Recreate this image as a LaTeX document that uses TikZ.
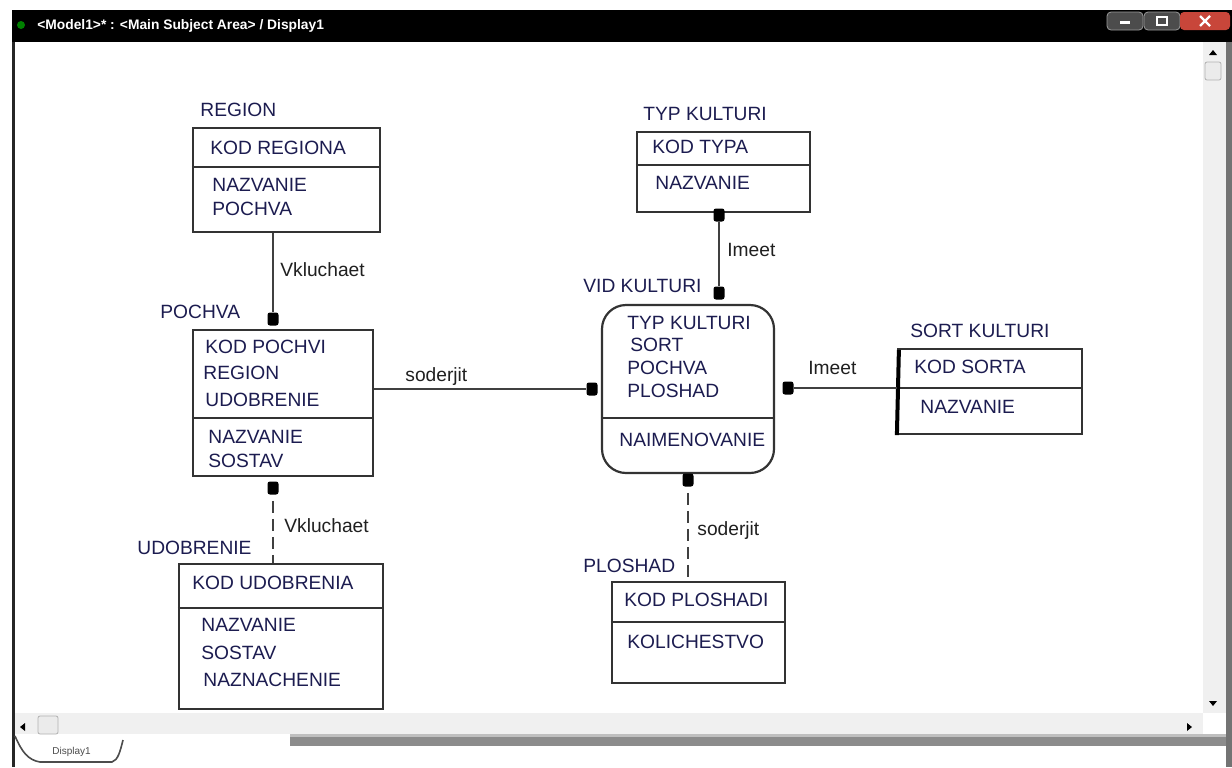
\documentclass[tikz,border=0pt]{standalone}
\usepackage{fontspec}
\setmainfont{Liberation Sans}
\usetikzlibrary{fit}
\definecolor{attrblue}{HTML}{1C1C50}
\definecolor{relgray}{HTML}{202020}
\definecolor{barfill}{HTML}{F0F0F0}
\definecolor{closered}{HTML}{C8463A}
\tikzset{ent/.style={draw=black!80, line width=1.1pt, inner sep=0pt},
 vident/.style={ent, rounded corners=12pt},
 attr/.style={anchor=west, inner sep=0pt, text=attrblue, font=\fontsize{9.6}{11}\selectfont},
 rel/.style={anchor=west, inner sep=0pt, text=relgray, font=\fontsize{9.6}{11}\selectfont},
 dot/.style={fill=black, rounded corners=1.2pt, minimum width=5.5pt, minimum height=6.5pt, inner sep=0pt},
 link/.style={draw=black!75, line width=1.1pt},
 dashlink/.style={link, dash pattern=on 6pt off 3pt},
 sep/.style={draw=black!80, line width=1.1pt},
 }

\begin{document}
\begin{tikzpicture}[x=0.5pt,y=-0.5pt]
    \useasboundingbox (0,0) rectangle (1232,767);
    % window frame
    \fill[white] (0,0) rectangle (1232,767);
    \fill[black] (12,10) rectangle (1232,42);
    \fill[black!85] (12,42) rectangle (15,767);
    \fill[black!55] (1226,42) rectangle (1232,767);
    \fill[green!50!black] (21,25) circle (4);
    \node[anchor=west, inner sep=0pt, text=white, font=\fontsize{6.9}{8}\selectfont\bfseries] (title) at (37,26) {<Model1>* : <Main Subject Area> / Display1};
    \node[draw=black!40, fill=black!70, rounded corners=2pt, minimum width=18pt, minimum height=9pt] (minbtn) at (1125,21) {};
    \node[draw=black!40, fill=black!70, rounded corners=2pt, minimum width=18pt, minimum height=9pt] (maxbtn) at (1162,21) {};
    \node[fill=closered, rounded corners=2pt, minimum width=25pt, minimum height=9pt] (closebtn) at (1205,21) {};
    \draw[white, line width=1.5pt] (1120,22) -- (1130,22);
    \draw[white, line width=1pt] (1157,17) rectangle (1167,25);
    \draw[white, line width=1.2pt] (1200,16) -- (1210,26) (1200,26) -- (1210,16);
    % scroll bars
    \fill[barfill] (1203,42) rectangle (1226,713);
    \fill[black] (1209,55) -- (1217,55) -- (1213,50) -- cycle;
    \node[draw=black!30, fill=black!8, rounded corners=1pt, minimum width=8pt, minimum height=9pt] (vthumb) at (1213,71) {};
    \fill[black] (1209,701) -- (1217,701) -- (1213,706) -- cycle;
    \fill[barfill] (15,713) rectangle (1203,734);
    \fill[black] (25,723) -- (25,731) -- (20,727) -- cycle;
    \node[draw=black!30, fill=black!8, rounded corners=1pt, minimum width=10pt, minimum height=9pt] (hthumb) at (48,725) {};
    \fill[black] (1187,723) -- (1187,731) -- (1192,727) -- cycle;
    \fill[black!45] (290,734) rectangle (1226,746);
    \fill[black!25] (290,734) rectangle (1226,737);
    \draw[black!70, line width=0.8pt] (15,736) .. controls (22,752) and (28,760) .. (40,762) -- (112,762) .. controls (118,760) and (120,752) .. (123,740);
    \node[anchor=west, inner sep=0pt, text=black!70, font=\fontsize{5}{6}\selectfont] (tab) at (52,752) {Display1};

    % entities
    \node[ent, fit={(193,128) (380,232)}] (region) {};
    \draw[sep] (region.west |- 0,167) -- (region.east |- 0,167);
    \node[ent, fit={(193,330) (373,476)}] (pochva) {};
    \draw[sep] (pochva.west |- 0,418) -- (pochva.east |- 0,418);
    \node[ent, fit={(179,564) (383,709)}] (udobrenie) {};
    \draw[sep] (udobrenie.west |- 0,608) -- (udobrenie.east |- 0,608);
    \node[ent, fit={(637,132) (810,212)}] (typ) {};
    \draw[sep] (typ.west |- 0,165) -- (typ.east |- 0,165);
    \node[vident, fit={(602,305) (774,473)}] (vid) {};
    \draw[sep] (vid.west |- 0,418) -- (vid.east |- 0,418);
    \node[ent, fit={(898,349) (1082,434)}] (sort) {};
    \draw[sep] (sort.west |- 0,388) -- (sort.east |- 0,388);
    \draw[black, line width=2pt] (sort.north west) ++(2,2) -- (sort.south west);
    \node[ent, fit={(612,582) (785,683)}] (ploshad) {};
    \draw[sep] (ploshad.west |- 0,622) -- (ploshad.east |- 0,622);

    % entity names
    \node[attr] (regionname) at (200,110) {REGION};
    \node[attr] (pochvaname) at (160,312) {POCHVA};
    \node[attr] (udobrname) at (137,548) {UDOBRENIE};
    \node[attr] (typname) at (643,114) {TYP KULTURI};
    \node[attr] (vidname) at (583,286) {VID KULTURI};
    \node[attr] (sortname) at (910,331) {SORT KULTURI};
    \node[attr] (ploshadname) at (583,566) {PLOSHAD};

    % attributes
    \node[attr] (r1) at (210,148) {KOD REGIONA};
    \node[attr] (r2) at (212,185) {NAZVANIE};
    \node[attr] (r3) at (212,209) {POCHVA};
    \node[attr] (p1) at (205,347) {KOD POCHVI};
    \node[attr] (p2) at (203,373) {REGION};
    \node[attr] (p3) at (205,400) {UDOBRENIE};
    \node[attr] (p4) at (208,437) {NAZVANIE};
    \node[attr] (p5) at (208,461) {SOSTAV};
    \node[attr] (u1) at (192,583) {KOD UDOBRENIA};
    \node[attr] (u2) at (201,625) {NAZVANIE};
    \node[attr] (u3) at (201,653) {SOSTAV};
    \node[attr] (u4) at (203,680) {NAZNACHENIE};
    \node[attr] (t1) at (652,147) {KOD TYPA};
    \node[attr] (t2) at (655,183) {NAZVANIE};
    \node[attr] (v1) at (627,323) {TYP KULTURI};
    \node[attr] (v2) at (630,345) {SORT};
    \node[attr] (v3) at (627,368) {POCHVA};
    \node[attr] (v4) at (627,391) {PLOSHAD};
    \node[attr] (v5) at (619,440) {NAIMENOVANIE};
    \node[attr] (s1) at (914,367) {KOD SORTA};
    \node[attr] (s2) at (920,407) {NAZVANIE};
    \node[attr] (pl1) at (624,600) {KOD PLOSHADI};
    \node[attr] (pl2) at (627,642) {KOLICHESTVO};

    % relationships
    \node[dot] (pochvatop) at (273,319) {};
    \node[dot] (pochvabot) at (273,488) {};
    \node[dot] (vidleft) at (592,389) {};
    \node[dot] (typbot) at (719,215) {};
    \node[dot] (vidtop) at (719,293) {};
    \node[dot] (vidright) at (788,388) {};
    \node[dot] (vidbot) at (688,480) {};
    \draw[link] (region.south -| pochvatop) -- (pochvatop);
    \draw[dashlink] (pochvabot.south) ++(0,6) -- (pochvabot |- udobrenie.north);
    \draw[link] (pochva.east |- vidleft) -- (vidleft);
    \draw[link] (typbot) -- (vidtop);
    \draw[link] (vidright) -- (sort.west |- vidright);
    \draw[dashlink] (vidbot.south) ++(0,6) -- (vidbot |- ploshad.north);
    \node[rel] (l1) at (280,270) {Vkluchaet};
    \node[rel] (l2) at (284,526) {Vkluchaet};
    \node[rel] (l3) at (405,377) {soderjit};
    \node[rel] (l4) at (727,250) {Imeet};
    \node[rel] (l5) at (808,368) {Imeet};
    \node[rel] (l6) at (697,531) {soderjit};
\end{tikzpicture}
\end{document}
